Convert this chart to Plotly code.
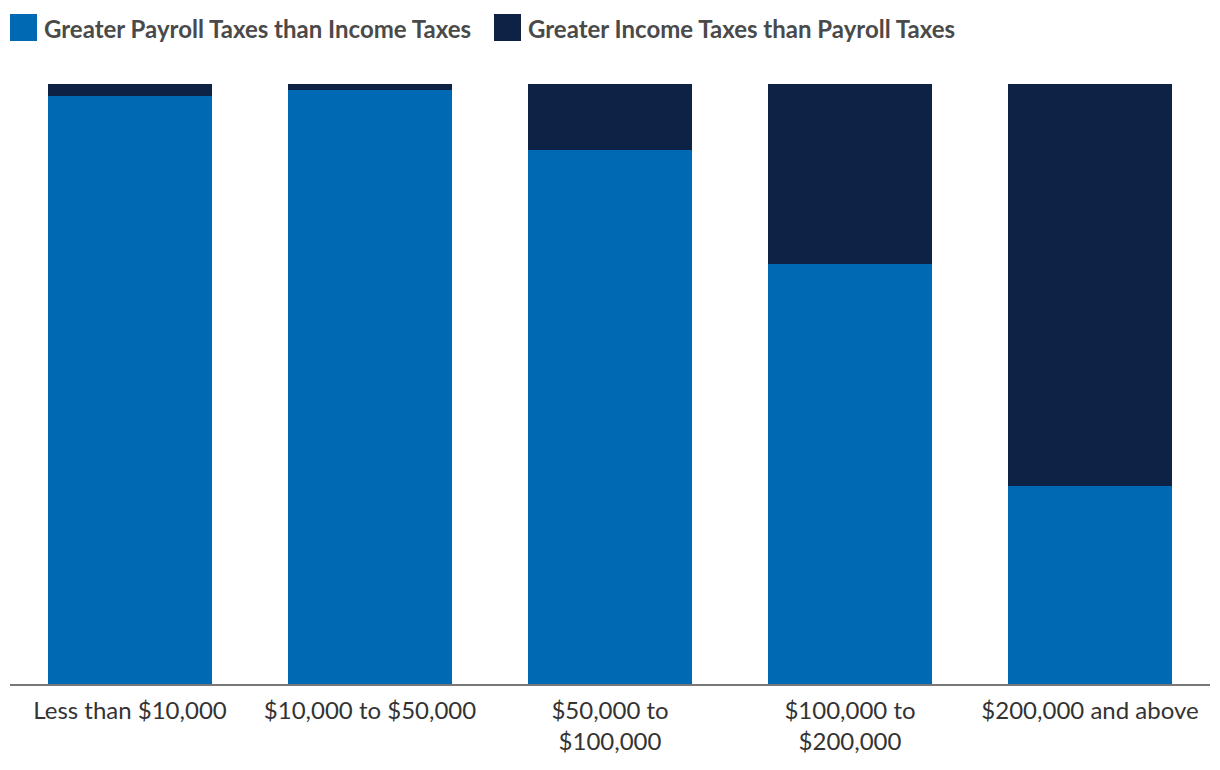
import plotly.graph_objects as go

categories = ["Less than $10,000", "$10,000 to $50,000", "$50,000 to<br>$100,000",
              "$100,000 to<br>$200,000", "$200,000 and above"]
payroll_greater = [98, 99, 89, 70, 33]
income_greater = [2, 1, 11, 30, 67]
series_names = ["Greater Payroll Taxes than Income Taxes", "Greater Income Taxes than Payroll Taxes"]
colors = ["#0069B4", "#0E2245"]

fig = go.Figure()
fig.add_trace(go.Bar(x=categories, y=payroll_greater, name=series_names[0],
                     marker=dict(color=colors[0], line=dict(width=0)), showlegend=False))
fig.add_trace(go.Bar(x=categories, y=income_greater, name=series_names[1],
                     marker=dict(color=colors[1], line=dict(width=0)), showlegend=False))

W, H = 1220, 770
ml, mr, mt, mb = 10, 10, 84, 86
pw = W - ml - mr
ph = H - mt - mb

def px_x(x):
    return (x - ml) / pw

def px_y(y):
    return (H - mb - y) / ph

# custom legend
legend_items = [(10, series_names[0], colors[0]), (494, series_names[1], colors[1])]
for x0, name, col in legend_items:
    fig.add_shape(type="rect", xref="paper", yref="paper",
                  x0=px_x(x0), x1=px_x(x0 + 27), y0=px_y(41), y1=px_y(14),
                  fillcolor=col, line=dict(width=0))
    fig.add_annotation(xref="paper", yref="paper", x=px_x(x0 + 32), y=px_y(28),
                       text=name, showarrow=False, xanchor="left", yanchor="middle",
                       font=dict(family="Lato", size=24, color="#4A4A4A", weight="bold"))

fig.update_layout(
    width=W, height=H,
    margin=dict(l=ml, r=mr, t=mt, b=mb),
    barmode="stack",
    bargap=0.317,
    plot_bgcolor="white", paper_bgcolor="white",
    font=dict(family="Lato", size=24, color="#333333"),
    xaxis=dict(showline=True, linecolor="#777777", linewidth=2, ticks="", showgrid=False,
               ticklabelstandoff=4,
               tickfont=dict(family="Lato", size=24, color="#333333")),
    yaxis=dict(range=[0, 100], visible=False, showgrid=False),
)

fig.write_html("out.html")
